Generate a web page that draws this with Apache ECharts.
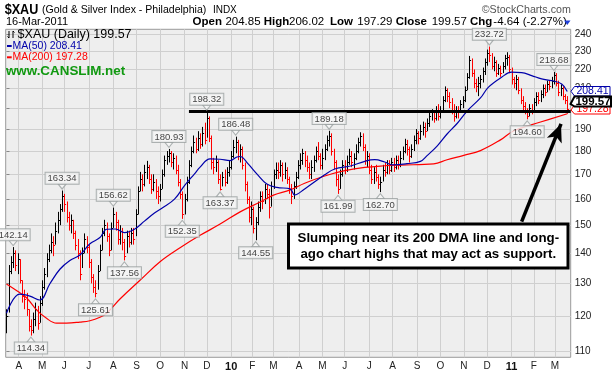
<!DOCTYPE html>
<html><head><meta charset="utf-8">
<script src="https://cdn.jsdelivr.net/npm/echarts@6/dist/echarts.min.js"></script>
<style>html,body{margin:0;padding:0;background:#fff}#c{width:613px;height:378px}</style>
</head><body><div id="c"></div>
<script>
// ---- Data (each bar = 2 trading days, index 0 = 17-Mar-2009) ----
const barHigh = [122,136,139,142.14,141,140,138,131,128,127,122,119,121,124,123,126,131,135,140,143,147,146,151,155,158,163.34,162,159,155,154,152,148,145,141,142,147,146,143,138,133,131,136,143,149,152,151,147,151,156.62,155,152,150,149,145,148,148,149,149,156,165,171,170,174,175.7,174,170,170,168,165,166,172,178,180,180.93,180,179,178,174,168,163,162,169,176,182,187,186,189,188,191,193,198.32,196,187,177,178,176,170,171,172,173,176,180,185,186.48,185,183,182,175,167,161,159,157,153,159,163,163,166,166,164,167,172,175,175,176,175,175,173,169,166,167,171,176,179,181,180,178,175,176,178,182,184,179,181,183,187,189.18,188,181,176,170,172,176,176,178,181,180,179,183,186,188.5,188,183,180,179,174,173,174,170,169,174,175,176,176,177,177,178,178,180,182,185.5,185,182,183,187,190,189,192,193.5,193,195,198,199.5,199,201,202,201,206,211,210,208,205,202,201,201,204,206,211,218,227.4,226,220,215,216,217,221,226,231,232.72,229,227,225,223,222,224,228,229.5,228,221,216,217,216,210,206,203,200,202,202,205,208,208,209,212,212,214,214,216,218.68,218,214,212,211,207,206.02];
const barLow = [115,121,133,135,134,133,130,124,122,120,115.5,114.34,115,117,116,118,123,128,132,137,140,139,143,147,150,155,155,151,148,147,145,141,138,131,135,140,140,135,130,127,125.61,128,134,141,146,144,139,141,149,148,143,143,141,137.56,140,142,143,143,146,154,163,163,165,168,166,162,163,160,158,159,164,169,174,175,173,172,170,165,160,152.35,154,159,166,173,179,179,180,181,182,183,186,184,172,170,171,166,163.37,165,165,166,169,172,177,179,176,175,172,163,158,151,150,147,144.55,150,155,156,158,160,152.5,157,164,168,168,169,167,168,166,162,158,160,164,168,172,174,173,171,168,168,171,175,176,172,172,176,180,182,178,172,165,161.99,164,169,170,171,174,173,172,176,179,182,180,174,173,170,166,166,167,164,162.7,167,169,170,170,171,171,172,172,173,176,179,178,175,177,180,183,183,185,187,186,189,191,194,193,194,194,195,198,203,203,200,197,193.5,195,195,198,200,203,209,215,216,210,208,206,210,213,217,222,224,220,219,216,217,216,218,220,222,218,212,210,209,207,202,199,197,194.6,196,197,198,201,202,203,205,206,208,209,210,212,211,206,206,204,202,197.29];
const barClose = [120,134,137,140,136,138,131,126,125,122,117,116,119,122,118,124,129,133,138,141,144,143,148,152,156,161,158,153,150,152,147,143,140,133,140,145,142,137,132,129,127,134,141,147,150,146,141,149,154,151,145,148,144,139,146,144,147,145,154,163,168,166,171,173,168,164,167,163,161,164,170,176,178,179,175,177,172,167,162,154,160,167,174,180,184,181,186,183,188,185,195,186,175,173,175,168,164,169,167,171,173,178,182,184,178,181,174,166,160,153,156,149,151,157,161,159,164,162,157,165,170,172,171,174,170,172,168,164,161,165,169,174,176,179,176,173,170,173,176,180,178,174,177,181,185,187,180,175,168,164,170,174,172,175,178,175,177,180,184,187,182,176,178,172,168,171,169,166,167,172,171,174,172,175,173,176,174,177,180,183,181,178,181,185,188,186,189,191,189,193,196,198,195,199,196,199,204,209,206,203,199,196,199,198,202,204,209,216,225,218,213,211,213,215,219,224,229,228,222,224,218,221,218,222,226,227,220,215,213,215,209,204,201,198,196,200,198,203,206,204,207,210,208,212,211,214,217,213,208,210,206,204,199.57];
// 50-day and 200-day moving averages: [trading-day index, value]
const ma50 = [[0,120.8],[12,126.6],[21,126],[30,124.8],[39,129.9],[48,134.6],[57,137.5],[66,139.4],[75,143.3],[84,145.5],[90,148.5],[98,148.6],[106,147.3],[115,148.5],[124,151.5],[133,154.6],[140,156.5],[151,159.9],[160,165.3],[169,170.2],[174,173],[183,176.6],[192,176.4],[201,175.8],[207,177.4],[210,177.6],[217,174.5],[225,170.2],[234,166],[243,164.6],[255,164],[259,161.6],[268,164],[286,169.8],[295,172.2],[310,173.6],[322,175.5],[331,176.2],[340,175.2],[347,174],[360,174.5],[372,175.5],[378,178],[387,182.2],[396,187.7],[405,192.6],[414,198.6],[426,205.1],[433,210.5],[445,215.8],[454,218.5],[463,218.3],[472,216.7],[481,214.9],[490,214],[499,212.3],[504,208.41]];
const ma200 = [[0,129.8],[10,127.5],[18,125.5],[27,121.8],[36,119.3],[45,117.9],[54,117.9],[66,118.2],[75,118.6],[84,119.6],[90,120.8],[102,125.1],[120,131],[138,137.1],[156,141.9],[174,146.3],[192,150.4],[210,155],[228,158.8],[240,161.5],[255,163.6],[268,166.3],[286,169.3],[304,171.5],[322,172.9],[340,173.6],[354,173.9],[384,174.4],[396,176.2],[411,178.1],[426,180.2],[444,185],[456,189.2],[480,193.3],[504,197.28]];
// month starts (trading-day index) and their labels
const monthIdx = [11,32,52,74,96,117,138,160,180,202,221,240,263,284,304,326,347,369,390,411,432,454,474,493];
const monthLabels = ['A','M','J','J','A','S','O','N','D','10','F','M','A','M','J','J','A','S','O','N','D','11','F','M'];
const yTicks = [110,120,130,140,150,160,170,180,190,200,210,220,230,240];
// annotated pivots: [index, value, 'H' high / 'L' low]
const pivots = [[6,142.14,'H'],[22,114.34,'L'],[50,163.34,'H'],[80,125.61,'L'],[96,156.62,'H'],[106,137.56,'L'],[146,180.93,'H'],[158,152.35,'L'],[180,198.32,'H'],[192,163.37,'L'],[206,186.48,'H'],[224,144.55,'L'],[290,189.18,'H'],[298,161.99,'L'],[336,162.70,'L'],[434,232.72,'H'],[468,194.60,'L'],[492,218.68,'H']];
const supportLevel = 198.32;
const supportStart = 164;
const arrowFrom = [463,151.3];
const arrowTo = [498.4,192.4];

const FONT = '"Liberation Sans", Arial, sans-serif';
const barData = barClose.map((c,i)=>[i*2, barHigh[i], barLow[i], c, (i===0 || c>=barClose[i-1]) ? 1 : 0]);
const labelMap = {}; monthIdx.forEach((m,i)=>labelMap[m]=monthLabels[i]);

function renderBar(params, api){
  const x=api.value(0), h=api.value(1), l=api.value(2), c=api.value(3), up=api.value(4);
  const ph=api.coord([x,h]), pl=api.coord([x,l]), pc=api.coord([x,c]);
  const px=Math.round(ph[0])+0.5, cy=Math.round(pc[1])+0.5;
  const col= up ? '#000000' : '#ff0000';
  return {type:'group', children:[
    {type:'line', shape:{x1:px,y1:ph[1],x2:px,y2:pl[1]}, style:{stroke:col,lineWidth:1}},
    {type:'line', shape:{x1:px,y1:cy,x2:px+1.6,y2:cy}, style:{stroke:col,lineWidth:1}}
  ]};
}

const pivotData = pivots.map(p=>({
  value:[p[0],p[1]],
  symbolRotate: p[2]==='H' ? 180 : 0,
  symbolOffset: [0, p[2]==='H' ? -4 : 4],
  label:{position: p[2]==='H' ? 'top' : 'bottom', formatter: p[1].toFixed(2)}
}));

function txt(text,x,y,font,fill,extra){
  return Object.assign({type:'text', x:x, y:y, z:100, silent:true,
    style:{text:text, font:font, fill:fill||'#000', textVerticalAlign:'middle', verticalAlign:'middle'}}, extra||{});
}
const graphics = [
  txt('$XAU',4.7,10,'bold 14px '+FONT,'#000',{scaleX:0.9}),
  txt('(Gold & Silver Index - Philadelphia)',42,10,'11px '+FONT,'#000',{scaleX:0.96}),
  txt('INDX',212.9,10,'10px '+FONT,'#000'),
  txt('\u00A9StockCharts.com',481.7,10,'11px '+FONT,'#555',{scaleX:0.97}),
  txt('16-Mar-2011',5.9,22.3,'11px '+FONT,'#000'),
  txt('Open',192.6,22.3,'bold 11.5px '+FONT),
  txt('204.85',225.4,22.3,'11.5px '+FONT),
  txt('High',263.7,22.3,'bold 11.5px '+FONT),
  txt('206.02',289,22.3,'11.5px '+FONT),
  txt('Low',330,22.3,'bold 11.5px '+FONT),
  txt('197.29',357.3,22.3,'11.5px '+FONT),
  txt('Close',395.7,22.3,'bold 11.5px '+FONT),
  txt('199.57',431.7,22.3,'11.5px '+FONT),
  txt('Chg',470,22.3,'bold 11.5px '+FONT),
  txt('-4.64 (-2.27%)',493.3,22.3,'11.5px '+FONT),
  {type:'polygon', z:100, shape:{points:[[564,20.5],[570.5,20.5],[567.25,25]]}, style:{fill:'#1f3fd8'}},
  // in-plot legend
  {type:'polyline', z:100, shape:{points:[[9,31],[9,38],[7.5,36.5]]}, style:{stroke:'#000',lineWidth:1,fill:null}},
  {type:'polyline', z:100, shape:{points:[[13,38],[13,31],[14.5,32.5]]}, style:{stroke:'#000',lineWidth:1,fill:null}},
  txt('$XAU (Daily) 199.57',17.6,34.3,'12.5px '+FONT,'#000'),
  {type:'line', z:100, shape:{x1:7,y1:46,x2:11.7,y2:46}, style:{stroke:'#0000aa',lineWidth:2}},
  txt('MA(50) 208.41',12.5,46,'10.5px '+FONT,'#0000aa'),
  {type:'line', z:100, shape:{x1:7,y1:57.3,x2:11.7,y2:57.3}, style:{stroke:'#ff0000',lineWidth:2}},
  txt('MA(200) 197.28',12.5,57.3,'10.5px '+FONT,'#ff0000'),
  txt('www.CANSLIM.net',5.9,71.7,'bold 13.4px '+FONT,'#119911'),
  // annotation box
  {type:'rect', z:100, shape:{x:288.5,y:224,width:279.5,height:44}, style:{fill:'#fff',stroke:'#000',lineWidth:3}},
  txt('Slumping near its 200 DMA line and long-',428.3,238.3,'bold 13.3px '+FONT,'#000',{style:{text:'Slumping near its 200 DMA line and long-',font:'bold 13.3px '+FONT,fill:'#000',textAlign:'center',align:'center',textVerticalAlign:'middle',verticalAlign:'middle'}}),
  txt('ago chart highs that may act as support.',428.3,254.3,'bold 13.3px '+FONT,'#000',{style:{text:'ago chart highs that may act as support.',font:'bold 13.3px '+FONT,fill:'#000',textAlign:'center',align:'center',textVerticalAlign:'middle',verticalAlign:'middle'}}),
  // right-side value tags
  {type:'polygon', z:100, shape:{points:[[571,91.3],[574.5,86.5],[610,86.5],[610,96],[574.5,96]]}, style:{fill:'#fff',stroke:'#0000aa',lineWidth:1}},
  txt('208.41',592.5,91.3,'10px '+FONT,'#0000aa',{style:{text:'208.41',font:'10.5px '+FONT,fill:'#0000aa',textAlign:'center',align:'center',textVerticalAlign:'middle',verticalAlign:'middle'}}),
  {type:'polygon', z:100, shape:{points:[[571,110],[574.5,105],[610,105],[610,114],[574.5,114]]}, style:{fill:'#fff',stroke:'#ff0000',lineWidth:1}},
  txt('197.28',592.5,109.5,'10px '+FONT,'#ff0000',{style:{text:'197.28',font:'10.5px '+FONT,fill:'#ff0000',textAlign:'center',align:'center',textVerticalAlign:'middle',verticalAlign:'middle'}}),
  {type:'polygon', z:101, shape:{points:[[570.5,104],[574.5,96.5],[611,96.5],[611,106.5],[574.5,106.5]]}, style:{fill:'#fff',stroke:'#000',lineWidth:2}},
  txt('199.57',593,101.6,'bold 11px '+FONT,'#000',{z:102,style:{text:'199.57',font:'bold 11.5px '+FONT,fill:'#000',textAlign:'center',align:'center',textVerticalAlign:'middle',verticalAlign:'middle'}})
];

const chart = echarts.init(document.getElementById('c'), null, {renderer:'canvas'});
chart.setOption({
  animation:false,
  backgroundColor:'#ffffff',
  textStyle:{fontFamily:FONT},
  grid:{left:5.7, right:42.3, top:29.3, bottom:20.7, show:true, backgroundColor:'#eeeeee', borderColor:'#9a9a9a', borderWidth:1},
  xAxis:{type:'value', min:-0.7, max:507.1,
    axisLine:{show:false},
    axisTick:{show:false, customValues:monthIdx},
    splitLine:{show:true, lineStyle:{color:'#cfcfcf', width:1}},
    axisLabel:{customValues:monthIdx, fontSize:10, color:'#222', margin:4,
      formatter:function(v){const s=labelMap[Math.round(v)]||''; return /\d/.test(s) ? '{b|'+s+'}' : s;},
      rich:{b:{fontWeight:'bold', fontSize:11, color:'#111'}}}
  },
  yAxis:{type:'log', logBase:10, position:'right', min:108.4, max:242.8,
    axisLine:{show:false},
    axisTick:{show:true, length:3, customValues:yTicks, lineStyle:{color:'#888'}},
    axisLabel:{customValues:yTicks, fontSize:10, color:'#222', margin:4},
    splitLine:{show:true, lineStyle:{color:'#cfcfcf', width:1}}
  },
  series:[
    {type:'custom', name:'XAU', renderItem:renderBar, data:barData, encode:{x:0,y:[1,2,3]}, clip:true, z:2},
    {type:'line', name:'MA200', data:ma200, smooth:0.4, showSymbol:false, lineStyle:{color:'#ff0000', width:1.2}, z:3, silent:true},
    {type:'line', name:'MA50', data:ma50, smooth:0.4, showSymbol:false, lineStyle:{color:'#0000aa', width:1.2}, z:3, silent:true},
    {type:'line', name:'support', data:[[supportStart,supportLevel],[507.1,supportLevel]], showSymbol:false, lineStyle:{color:'#000', width:3}, z:4, silent:true,
      markLine:{silent:true, symbol:['none','arrow'], symbolSize:[12,18], label:{show:false},
        lineStyle:{color:'#000', width:3.5, type:'solid'},
        data:[[{coord:arrowFrom},{coord:arrowTo}]]}},
    {type:'scatter', name:'pivots', data:pivotData, symbol:'triangle', symbolSize:[8,5], z:5, silent:true,
      itemStyle:{color:'#f6f6f6', borderColor:'#9aa0a0', borderWidth:1},
      label:{show:true, distance:0, fontSize:9.5, color:'#111', backgroundColor:'#f6f6f6', borderColor:'#9aa0a0', borderWidth:1, padding:[1,2,0,2], lineHeight:10}}
  ],
  graphic: graphics
});
</script></body></html>
